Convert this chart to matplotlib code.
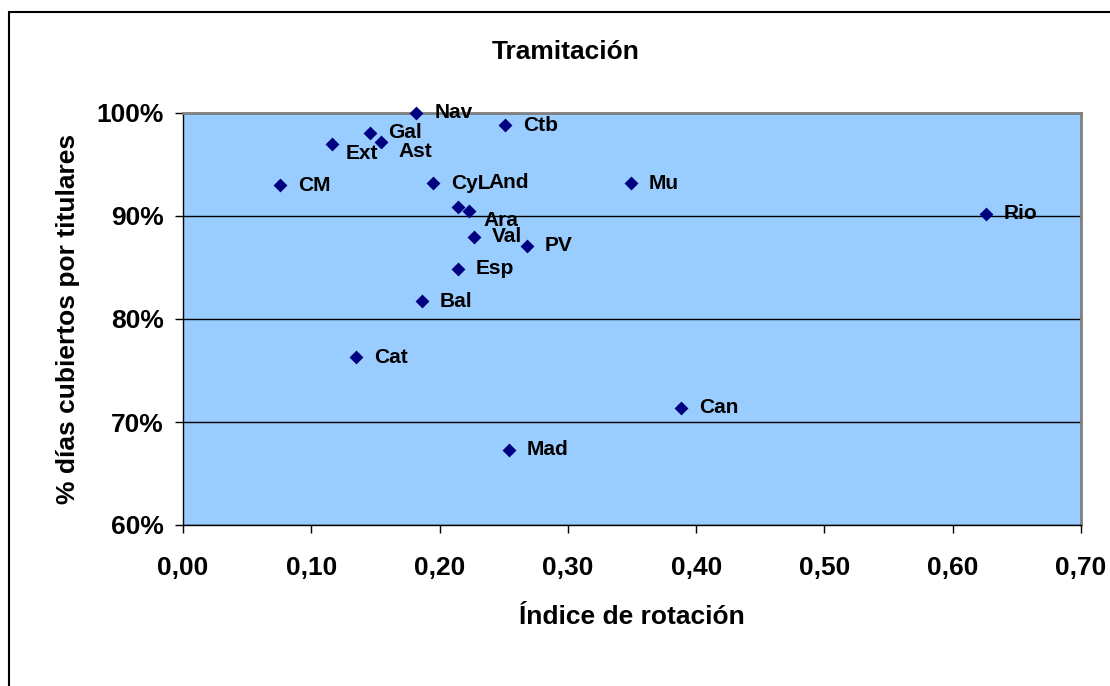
import matplotlib.pyplot as plt
from matplotlib.patches import Rectangle
from matplotlib.ticker import FuncFormatter

# --------------- DATA ---------------
regions = ["Nav", "Ctb", "Gal", "Ast", "Ext", "CM", "CyL", "And", "Ara", "Mu",
           "Rio", "Val", "PV", "Esp", "Bal", "Cat", "Can", "Mad"]
rotation = [0.182, 0.251, 0.146, 0.154, 0.116, 0.076, 0.195, 0.214, 0.223, 0.349,
            0.626, 0.227, 0.268, 0.214, 0.186, 0.135, 0.388, 0.254]
covered = [100.0, 98.8, 98.1, 97.2, 97.0, 93.0, 93.2, 90.9, 90.5, 93.2,
           90.2, 88.0, 87.1, 84.9, 81.7, 76.3, 71.4, 67.3]

x_ticks = [0.0, 0.1, 0.2, 0.3, 0.4, 0.5, 0.6, 0.7]
y_ticks = [60, 70, 80, 90, 100]

# label offsets in pixels (dx right, dy up); default sits right of the marker
default_offset = (18, 0)
label_offsets = {"Ast": (18, -10), "Ext": (14, -10), "And": (31, 24), "Ara": (14, -10)}

# --------------- PLOT ---------------
plt.rcParams['font.family'] = ['Liberation Sans', 'DejaVu Sans']
plt.rcParams['font.weight'] = 'bold'

fig = plt.figure(figsize=(11.1, 6.86), dpi=100)
ax = fig.add_axes([183 / 1110, 1 - 525 / 686, 898 / 1110, 412 / 686])
ax.set_facecolor('#99CCFF')

ax.scatter(rotation, covered, marker='D', s=50, color='#000080', zorder=3,
           linewidths=0, clip_on=False)

for name, x, y in zip(regions, rotation, covered):
    dx, dy = label_offsets.get(name, default_offset)
    ax.annotate(name, (x, y), xytext=(dx * 0.72, dy * 0.72), textcoords='offset points',
                fontsize=15, fontweight='bold', va='center', ha='left', zorder=4)

ax.set_xlim(0, 0.7)
ax.set_ylim(60, 100)
ax.set_xticks(x_ticks)
ax.set_yticks(y_ticks)
ax.xaxis.set_major_formatter(FuncFormatter(lambda v, p: f"{v:.2f}".replace('.', ',')))
ax.yaxis.set_major_formatter(FuncFormatter(lambda v, p: f"{v:.0f}%"))
ax.tick_params(axis='x', direction='out', length=6, width=1, pad=16, labelsize=19)
ax.tick_params(axis='y', direction='out', length=6, width=1, pad=8, labelsize=19)
ax.grid(axis='y', color='black', linewidth=1)
ax.set_axisbelow(True)

for side in ['top', 'right']:
    ax.spines[side].set_color('#808080')
    ax.spines[side].set_linewidth(2)
for side in ['left', 'bottom']:
    ax.spines[side].set_color('black')
    ax.spines[side].set_linewidth(1)

ax.set_xlabel("Índice de rotación", fontsize=19, fontweight='bold', labelpad=18)
ax.set_ylabel("% días cubiertos por titulares", fontsize=19, fontweight='bold', labelpad=12)
fig.text(566 / 1110, 1 - 52 / 686, "Tramitación", fontsize=19, fontweight='bold',
         ha='center', va='center')

# outer chart frame, cut off at right and bottom
fig.add_artist(Rectangle((9 / 1110, -0.1), 1.5, 1.1 - 12 / 686, transform=fig.transFigure,
                         fill=False, edgecolor='black', linewidth=1.5))

fig.savefig('out.png', dpi=100)
